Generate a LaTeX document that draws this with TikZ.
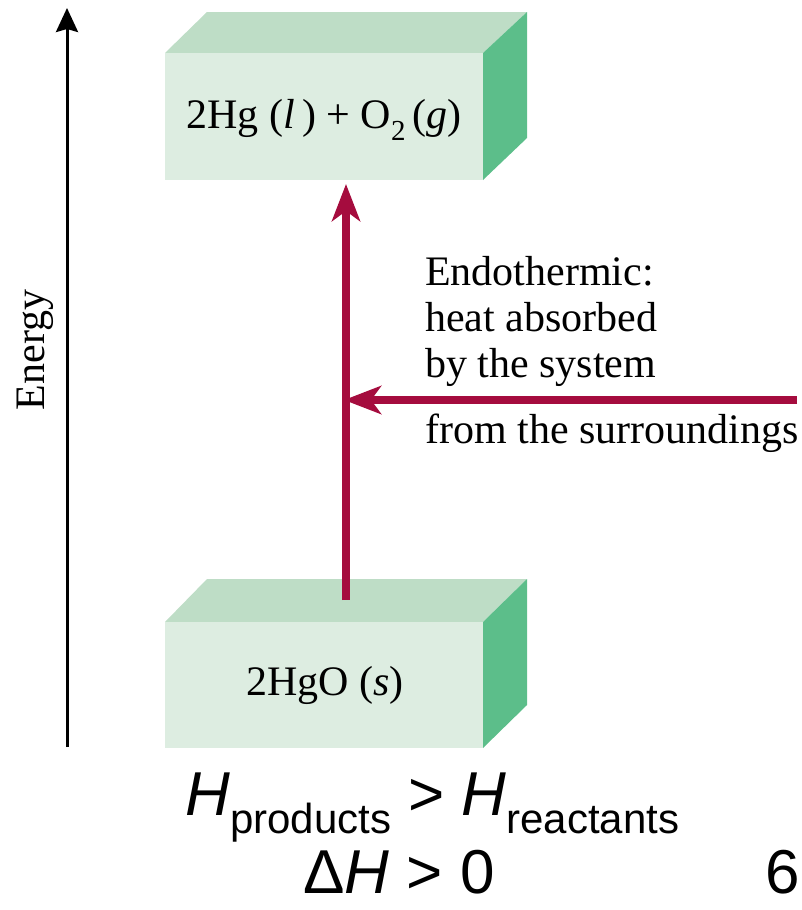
\documentclass[tikz,border=0pt]{standalone}
\usepackage{fontspec}
\setmainfont{Liberation Serif}
\newfontfamily\slidefont{Liberation Sans}
\usetikzlibrary{arrows.meta}
\definecolor{boxfront}{HTML}{DDEDE1}
\definecolor{boxtop}{HTML}{BEDDC6}
\definecolor{boxside}{HTML}{5CBE8A}
\definecolor{heatred}{RGB}{165,12,62}

\begin{document}
\begin{tikzpicture}[x=1pt,y=-1pt,
    label/.style={font=\fontsize{42}{46}\selectfont, inner sep=0pt},
    slide/.style={font=\slidefont\fontsize{62}{62}\selectfont, inner sep=0pt},
    heat/.style={heatred, line width=7.5pt, -{Stealth[length=37pt,width=28pt,inset=10pt]}}]
    \useasboundingbox (0,0) rectangle (802,910);
    % Energy axis
    \coordinate (axislow) at (67,747);
    \coordinate (axishigh) at (67,8);
    \draw[line width=3pt, -{Stealth[length=24pt,width=22pt,inset=3pt]}] (axislow) -- (axishigh);
    \node[label, rotate=90] (energy) at (35.5,350) {Energy};
    % Products level
    \fill[boxtop] (165,53) -- (207,12) -- (527,12) -- (483,53) -- cycle;
    \fill[boxside] (483,53) -- (527,12) -- (527,138) -- (483,180) -- cycle;
    \fill[boxfront] (165,53) rectangle (483,180);
    \node[label, anchor=base] (prod) at (324,128) {2Hg (\textit{l}\,) + O\raisebox{-0.3em}{\fontsize{29}{29}\selectfont 2}\,(\textit{g})};
    % Reactants level
    \fill[boxtop] (165,622) -- (207,579) -- (527,579) -- (483,622) -- cycle;
    \fill[boxside] (483,622) -- (527,579) -- (527,705) -- (483,748) -- cycle;
    \fill[boxfront] (165,622) rectangle (483,748);
    \node[label, anchor=base] (react) at (325,695) {2HgO (\textit{s})};
    % Heat flow
    \coordinate (risefoot) at (346,600);
    \coordinate (risetip) at (346,184);
    \draw[heat] (risefoot) -- (risetip);
    \coordinate (heatsrc) at (797,400);
    \draw[heat, shorten >=-2pt] (heatsrc) -- (heatsrc -| risefoot);
    \node[label, anchor=north west, align=left] (endo) at (425,256) {Endothermic:\\heat absorbed\\by the system};
    \node[label, anchor=base west] (surr) at (425,443) {from the surroundings};
    % Enthalpy comparison
    \node[slide, anchor=base west] (hcmp) at (185,815) {\textit{H}\raisebox{-0.3em}{\fontsize{42}{42}\selectfont products} > \textit{H}\raisebox{-0.3em}{\fontsize{42}{42}\selectfont reactants}};
    \node[slide, anchor=base west] (dh) at (303,893) {Δ\textit{H} > 0};
    \node[slide, anchor=base east] (page) at (800,893) {6};
\end{tikzpicture}
\end{document}
